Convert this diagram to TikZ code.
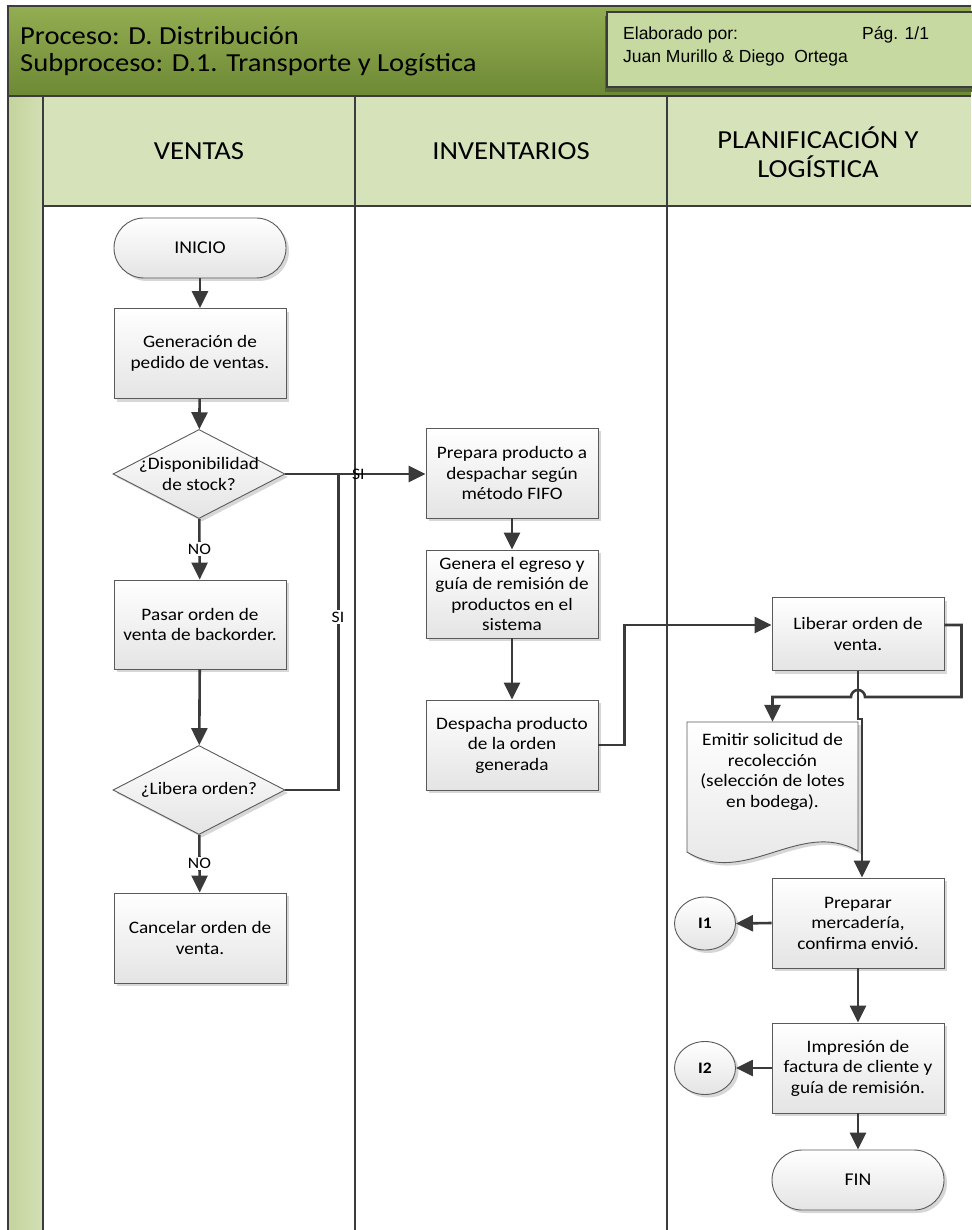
\documentclass[tikz,border=0pt]{standalone}
\usepackage{fontspec}
\setmainfont{Carlito}[FakeStretch=1.1]
\newfontfamily\hdfont{Liberation Sans}
\usetikzlibrary{arrows.meta,calc,shapes.geometric,shadows}

\definecolor{bandtop}{HTML}{93AD52}
\definecolor{bandbot}{HTML}{6D8934}
\definecolor{lanehd}{HTML}{D6E2BA}
\definecolor{stripL}{HTML}{C4D49C}
\definecolor{stripR}{HTML}{D3DFB5}
\definecolor{elab}{HTML}{C6D9A0}
\definecolor{elabshadow}{HTML}{55663A}
\definecolor{frameline}{HTML}{3C3C3C}
\definecolor{shapeline}{HTML}{5A5A5A}
\definecolor{connline}{HTML}{3A3A3A}
\definecolor{boxgray}{HTML}{E4E4E4}

\newcommand\docoutline{(687,722) -- (858,722) -- (858,851) .. controls (800,818) and (745,888) .. (687,852) -- cycle}

\begin{document}
\begin{tikzpicture}[x=1pt,y=-1pt,
  softshadow/.style={drop shadow={shadow xshift=3pt,shadow yshift=-3pt,opacity=0.45,fill=black!35}},
  flowbox/.style={rectangle,draw=shapeline,line width=0.9pt,top color=white,bottom color=boxgray,
    minimum width=172pt,minimum height=90pt,align=center,inner sep=2pt,
    font=\fontsize{17.5}{20.5}\selectfont,softshadow},
  termbox/.style={flowbox,rounded corners=30pt,minimum height=60pt,font=\fontsize{18}{21}\selectfont},
  decbox/.style={diamond,draw=shapeline,line width=0.9pt,top color=white,bottom color=boxgray,
    minimum width=172pt,minimum height=89pt,inner sep=0pt,softshadow},
  dectext/.style={align=center,inner sep=0pt,font=\fontsize{17.5}{20.5}\selectfont},
  linkcircle/.style={ellipse,draw=shapeline,line width=0.9pt,top color=white,bottom color=boxgray,
    minimum width=61pt,minimum height=53pt,inner sep=0pt,font=\fontsize{16}{18}\selectfont\bfseries,softshadow},
  doctext/.style={rectangle,minimum width=171pt,minimum height=100pt,align=center,inner sep=0pt,
    font=\fontsize{17.5}{20.5}\selectfont},
  flow/.style={draw=connline,line width=2.6pt,-{Triangle[length=17pt,width=16pt]}},
  flowplain/.style={draw=connline,line width=2.6pt},
  lbl/.style={font=\fontsize{16}{18}\selectfont,inner sep=1.5pt},
  lblw/.style={lbl,fill=white},
  laneline/.style={draw=frameline,line width=1.3pt},
  lanetitle/.style={align=center,font=\fontsize{26}{29}\selectfont}
]
\useasboundingbox (0,0) rectangle (971,1230);

% ---- header band ----
\shade[top color=bandtop,bottom color=bandbot] (8,6) rectangle (971,96);
\node[anchor=base west,inner sep=0pt,font=\fontsize{26}{30}\selectfont] (title1) at (20,45) {Proceso: D. Distribución};
\node[anchor=base west,inner sep=0pt,font=\fontsize{26}{30}\selectfont] (title2) at (20,72) {Subproceso: D.1. Transporte y Logística};

% author / page box
\fill[elabshadow] (605,16) rectangle (975,92);
\draw[fill=elab,draw=frameline,line width=1.2pt] (607,12) rectangle (975,87);
\node[anchor=base west,inner sep=0pt,font=\hdfont\fontsize{17.5}{20}\selectfont] (author1) at (623,40) {Elaborado por:};
\node[anchor=base west,inner sep=0pt,font=\hdfont\fontsize{17.5}{20}\selectfont] (page) at (862,40) {Pág. 1/1};
\node[anchor=base west,inner sep=0pt,font=\hdfont\fontsize{17.5}{20}\selectfont] (author2) at (623,63) {Juan Murillo \& Diego\ \ Ortega};

% ---- swimlanes ----
\fill[lanehd] (43,96) rectangle (971,206);
\shade[left color=stripL,right color=stripR] (8,96) rectangle (43,1230);
\draw[laneline] (8,1230) -- (8,6) -- (971,6);
\draw[laneline] (8,96) -- (971,96);
\draw[laneline] (43,96) -- (43,1230);
\draw[laneline] (355,96) -- (355,1230);
\draw[laneline] (667,96) -- (667,1230);
\draw[laneline] (43,206) -- (971,206);

\node[lanetitle] (laneV) at (199,151) {VENTAS};
\node[lanetitle] (laneI) at (511,151) {INVENTARIOS};
\node[lanetitle] (laneP) at (818,152) {PLANIFICACIÓN Y\\LOGÍSTICA};

% ---- VENTAS ----
\node[termbox] (ini) at (200,248) {INICIO};
\node[flowbox] (gen) at (200,353.5) {Generación de\\pedido de ventas.};
\node[decbox] (d1) at (199,474) {};
\node[dectext] (d1t) at (d1) {¿Disponibilidad\\de stock?};
\node[flowbox,minimum height=89pt] (pas) at (200,624.5) {Pasar orden de\\venta de backorder.};
\node[decbox] (d2) at (199,790) {};
\node[dectext] (d2t) at (d2) {¿Libera orden?};
\node[flowbox] (can) at (200,938) {Cancelar orden de\\venta.};

% ---- INVENTARIOS ----
\node[flowbox] (pre) at (512,473) {Prepara producto a\\despachar según\\método FIFO};
\node[flowbox,minimum height=88pt] (egr) at (512,594) {Genera el egreso y\\guía de remisión de\\productos en el\\sistema};
\node[flowbox] (des) at (512,745) {Despacha producto\\de la orden\\generada};

% ---- PLANIFICACIÓN Y LOGÍSTICA ----
\node[flowbox,minimum height=73pt] (lib) at (858,634) {Liberar orden de\\venta.};
\fill[black!35,opacity=0.45,shift={(3pt,-3pt)}] \docoutline;
\draw[draw=shapeline,line width=0.9pt,top color=white,bottom color=boxgray] \docoutline;
\node[doctext] (doc) at (772.5,772) {Emitir solicitud de\\recolección\\(selección de lotes\\en bodega).};
\node[flowbox] (prm) at (858,923) {Preparar\\mercadería,\\confirma envió.};
\node[linkcircle] (i1) at (705,923.5) {I1};
\node[flowbox] (imp) at (858,1068) {Impresión de\\factura de cliente y\\guía de remisión.};
\node[linkcircle] (i2) at (705,1068) {I2};
\node[termbox] (fin) at (858,1180) {FIN};

% ---- connectors ----
\draw[flow] (ini) -- (gen);
\draw[flow] (gen) -- (d1);
\draw[flow] (d1.east) -- (d1.east -| pre.west) node[lbl,pos=0.52] (si1) {SI};
\draw[flow] (d1) -- (pas) node[lblw,pos=0.5] (no1) {NO};
\draw[flow] (pas) -- (d2);
\coordinate (join) at ($(d1.east)+(53,0)$);
\draw[flowplain] (d2.east) -| (join);
\node[lblw] (si2) at (338,617) {SI};
\draw[flow] (d2) -- (can) node[lblw,pos=0.5] (no2) {NO};

\draw[flow] (pre) -- (egr);
\draw[flow] (egr) -- (des);
\draw[flow] (des.east) -- ++(26,0) |- ($(lib.west)+(0,-9)$);

\draw[flow] ($(lib.east)+(0,-9)$) -- ++(17,0) |- (865,697)
  arc[start angle=0,end angle=180,radius=7pt] -| (doc.north);
\draw[flow] (lib.south) -- ++(0,48) -- ++(4,0) -- ($(prm.north)+(4,0)$);

\draw[flow] (prm.west) -- (i1.east);
\draw[flow] (prm) -- (imp);
\draw[flow] (imp.west) -- (i2.east);
\draw[flow] (imp) -- (fin);
\end{tikzpicture}
\end{document}
